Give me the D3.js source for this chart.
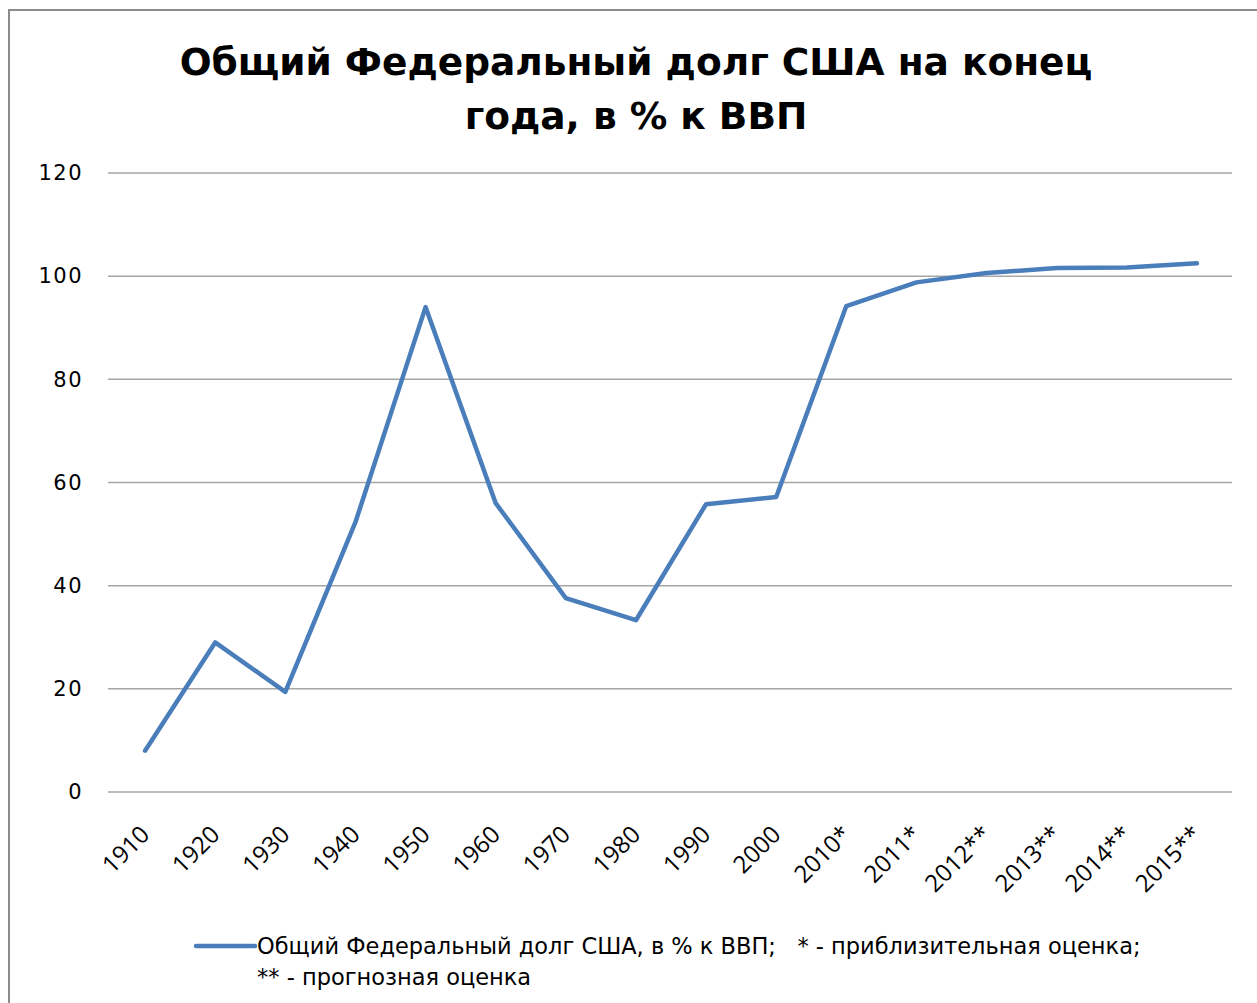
<!DOCTYPE html>
<html>
<head>
<meta charset="utf-8">
<script src="https://cdn.jsdelivr.net/npm/d3@7"></script>
<style>
  body { margin: 0; background: #fff; }
  svg { display: block; }
</style>
</head>
<body>
<div id="chart"></div>
<script>
var years = ['1910', '1920', '1930', '1940', '1950', '1960', '1970', '1980',
             '1990', '2000', '2010*', '2011*', '2012**', '2013**', '2014**', '2015**'];
var debtPct = [8, 29, 19.4, 52.3, 94, 56, 37.6, 33.3, 55.8, 57.2, 94.2, 98.8, 100.6, 101.6, 101.7, 102.5];
var yTicks = [0, 20, 40, 60, 80, 100, 120];
var titleLines = ['Общий Федеральный долг США на конец', 'года, в % к ВВП'];
var legendLines = ['Общий Федеральный долг США, в % к ВВП;   * - приблизительная оценка;',
                   '** - прогнозная оценка'];

var width = 1257, height = 1003;
var margin = {left: 110, right: 25, top: 173, bottom: 211};

var svg = d3.select('#chart').append('svg')
    .attr('width', width)
    .attr('height', height);

// outer frame
svg.append('path')
    .attr('d', 'M9,' + (height + 5) + ' V10 H' + (width + 5))
    .attr('fill', 'none')
    .attr('stroke', '#8c8c8c')
    .attr('stroke-width', 2);

// title
svg.append('g').selectAll('text')
    .data(titleLines)
    .enter()
    .append('text')
    .attr('x', 636)
    .attr('y', function(d, i) { return 75 + i * 54; })
    .attr('text-anchor', 'middle')
    .attr('font-family', 'DejaVu Sans')
    .attr('font-weight', 'bold')
    .attr('font-size', 37.5)
    .attr('fill', '#000')
    .text(function(d) { return d; });

var x = d3.scaleBand()
    .domain(years)
    .range([margin.left, width - margin.right]);

var y = d3.scaleLinear()
    .domain([0, 120])
    .range([height - margin.bottom, margin.top]);

// gridlines
svg.append('g').selectAll('line')
    .data(yTicks)
    .enter()
    .append('line')
    .attr('x1', margin.left - 2)
    .attr('x2', width - margin.right)
    .attr('y1', function(d) { return y(d); })
    .attr('y2', function(d) { return y(d); })
    .attr('stroke', '#a6a6a6')
    .attr('stroke-width', 1.5);

// y axis labels
var yAxis = d3.axisLeft(y).tickValues(yTicks).tickSize(0).tickPadding(0);
var gy = svg.append('g')
    .attr('transform', 'translate(83,0)')
    .call(yAxis);
gy.select('.domain').remove();
gy.selectAll('text')
    .attr('font-family', 'DejaVu Sans')
    .attr('font-size', 21)
    .attr('letter-spacing', 1.5)
    .attr('fill', '#000');

// x axis labels
var xAxis = d3.axisBottom(x).tickSize(0).tickPadding(0);
var gx = svg.append('g')
    .attr('transform', 'translate(0,' + (height - margin.bottom) + ')')
    .call(xAxis);
gx.select('.domain').remove();
gx.selectAll('text')
    .attr('font-family', 'Open Sans')
    .attr('font-size', 24)
    .attr('fill', '#000')
    .attr('text-anchor', 'end')
    .attr('dy', 0)
    .attr('transform', 'translate(6,44) rotate(-45)');

// data line
var line = d3.line()
    .x(function(d, i) { return x(years[i]) + x.bandwidth() / 2; })
    .y(function(d) { return y(d); });

svg.append('path')
    .datum(debtPct)
    .attr('d', line)
    .attr('fill', 'none')
    .attr('stroke', '#4a7ebb')
    .attr('stroke-width', 4.5)
    .attr('stroke-linejoin', 'round')
    .attr('stroke-linecap', 'round');

// legend
svg.append('line')
    .attr('x1', 196).attr('x2', 255)
    .attr('y1', 946).attr('y2', 946)
    .attr('stroke', '#4a7ebb')
    .attr('stroke-width', 4.5)
    .attr('stroke-linecap', 'round');

svg.append('g').selectAll('text')
    .data(legendLines)
    .enter()
    .append('text')
    .attr('x', 257)
    .attr('y', function(d, i) { return 954 + i * 31; })
    .attr('font-family', 'DejaVu Sans')
    .attr('font-size', 22.5)
    .attr('fill', '#000')
    .attr('xml:space', 'preserve')
    .style('white-space', 'pre')
    .text(function(d) { return d; });
</script>
</body>
</html>
